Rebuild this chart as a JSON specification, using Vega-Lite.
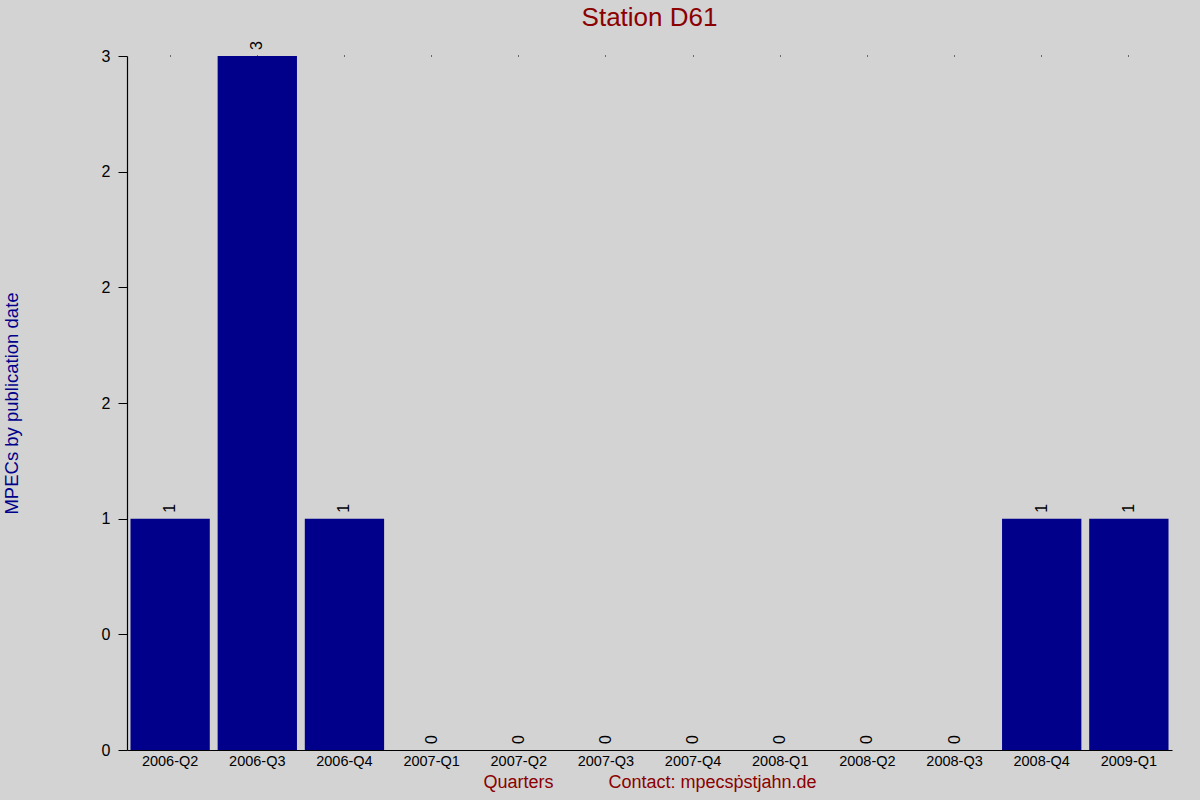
{
  "$schema": "https://vega.github.io/schema/vega-lite/v6.json",
  "autosize": "none",
  "width": 1045,
  "height": 694,
  "padding": {"left": 127, "top": 56, "right": 28, "bottom": 50},
  "background": "#d3d3d3",
  "title": {
    "text": "Station D61",
    "font": "Liberation Sans",
    "fontSize": 26,
    "fontWeight": "normal",
    "color": "#8b0000",
    "offset": 10
  },
  "config": {
    "view": {"stroke": null},
    "font": "Liberation Sans"
  },
  "data": {
    "values": [
      {"quarter": "2006-Q2", "count": 1},
      {"quarter": "2006-Q3", "count": 3},
      {"quarter": "2006-Q4", "count": 1},
      {"quarter": "2007-Q1", "count": 0},
      {"quarter": "2007-Q2", "count": 0},
      {"quarter": "2007-Q3", "count": 0},
      {"quarter": "2007-Q4", "count": 0},
      {"quarter": "2008-Q1", "count": 0},
      {"quarter": "2008-Q2", "count": 0},
      {"quarter": "2008-Q3", "count": 0},
      {"quarter": "2008-Q4", "count": 1},
      {"quarter": "2009-Q1", "count": 1}
    ]
  },
  "encoding": {
    "x": {
      "field": "quarter",
      "type": "ordinal",
      "sort": null,
      "scale": {"paddingInner": 0.09, "paddingOuter": 0.04},
      "axis": {
        "title": "Quarters\u00a0\u00a0\u00a0\u00a0\u00a0\u00a0\u00a0\u00a0\u00a0\u00a0\u00a0Contact: mpecsṗstjahn.de",
        "titleFont": "Liberation Sans",
        "titleFontSize": 18,
        "titleFontWeight": "normal",
        "titleColor": "#8b0000",
        "titlePadding": 6,
        "labelAngle": 0,
        "labelFont": "Liberation Sans",
        "labelFontSize": 14.5,
        "labelColor": "black",
        "labelPadding": 4,
        "ticks": false,
        "domainColor": "black",
        "domainWidth": 1.2
      }
    },
    "y": {
      "field": "count",
      "type": "quantitative",
      "scale": {"domain": [0, 3], "nice": false},
      "axis": {
        "title": "MPECs by publication date",
        "titleFont": "Liberation Sans",
        "titleFontSize": 18.5,
        "titleFontWeight": "normal",
        "titleColor": "#00008b",
        "titlePadding": 80,
        "values": [0, 0.5, 1, 1.5, 2, 2.5, 3],
        "labelExpr": "datum.value < 0.75 ? '0' : datum.value < 1.25 ? '1' : datum.value < 2.75 ? '2' : '3'",
        "labelFont": "Liberation Sans",
        "labelFontSize": 16,
        "labelColor": "black",
        "labelPadding": 8,
        "tickSize": 9,
        "tickColor": "black",
        "domainColor": "black",
        "domainWidth": 1.2,
        "grid": false
      }
    }
  },
  "layer": [
    {
      "mark": {"type": "bar", "color": "#00008b"}
    },
    {
      "mark": {
        "type": "text",
        "angle": 270,
        "align": "left",
        "baseline": "middle",
        "dx": 6,
        "fontSize": 16,
        "font": "Liberation Sans",
        "color": "black"
      },
      "encoding": {
        "text": {"field": "count", "type": "quantitative"},
        "x": {
          "field": "quarter",
          "type": "ordinal",
          "sort": null,
          "axis": {
            "orient": "top",
            "labels": false,
            "domain": false,
            "title": null,
            "tickSize": 1,
            "tickColor": "black"
          }
        }
      }
    }
  ],
  "resolve": {"axis": {"x": "independent"}}
}
